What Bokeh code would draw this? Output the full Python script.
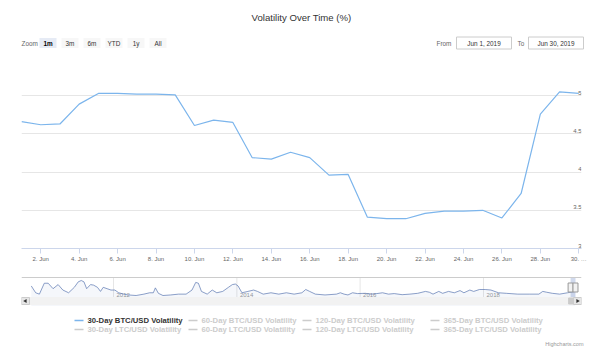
import numpy as np
import pandas as pd
from bokeh.plotting import figure
from bokeh.layouts import column, row
from bokeh.models import Range1d, FixedTicker
from bokeh.core.properties import value
from bokeh.embed import file_html
from bokeh.resources import INLINE

FONT = "Liberation Sans"
W = 602

# ---------------- data ----------------
title_text = "Volatility Over Time (%)"
dates = pd.date_range("2019-06-01", "2019-06-30", freq="D")
vol_30d_btc = [4.66, 4.62, 4.63, 4.89, 5.03, 5.03, 5.02, 5.02, 5.01, 4.61,
               4.68, 4.65, 4.19, 4.17, 4.26, 4.19, 3.96, 3.97, 3.41, 3.39,
               3.39, 3.46, 3.49, 3.49, 3.50, 3.40, 3.72, 4.76, 5.05, 5.03]
y_ticks = [3, 3.5, 4, 4.5, 5]
y_tick_labels = ["3", "3.5", "4", "4.5", "5"]
y_grid = [3, 3.5, 4, 4.5, 5, 5.5]
x_tick_dates = pd.to_datetime(["2019-06-%02d" % d for d in range(2, 31, 2)])
x_tick_labels = ["2. Jun", "4. Jun", "6. Jun", "8. Jun", "10. Jun", "12. Jun", "14. Jun",
                 "16. Jun", "18. Jun", "20. Jun", "22. Jun", "24. Jun", "26. Jun",
                 "28. Jun", "30. \u2026"]
zoom_label = "Zoom"
zoom_buttons = ["1m", "3m", "6m", "YTD", "1y", "All"]
zoom_selected = "1m"
from_label, from_value = "From", "Jun 1, 2019"
to_label, to_value = "To", "Jun 30, 2019"
legend_names = ["30-Day BTC/USD Volatility", "60-Day BTC/USD Volatility",
                "120-Day BTC/USD Volatility", "365-Day BTC/USD Volatility",
                "30-Day LTC/USD Volatility", "60-Day LTC/USD Volatility",
                "120-Day LTC/USD Volatility", "365-Day LTC/USD Volatility"]
legend_visible = [True, False, False, False, False, False, False, False]
credits_text = "Highcharts.com"

nav_dates = pd.to_datetime([
    "2010-09-01", "2010-09-27", "2010-10-19", "2010-11-17", "2010-12-10", "2011-01-08",
    "2011-02-07", "2011-03-07", "2011-04-10", "2011-05-14", "2011-06-06", "2011-06-24",
    "2011-07-10", "2011-07-26", "2011-08-18", "2011-09-05", "2011-09-28", "2011-10-16",
    "2011-11-01", "2011-11-24", "2011-12-17", "2012-01-09", "2012-02-01", "2012-03-02",
    "2012-03-30", "2012-05-14", "2012-06-29", "2012-08-02", "2012-08-24", "2012-09-05",
    "2012-09-23", "2012-10-20", "2012-12-05", "2013-01-20", "2013-03-06", "2013-04-10",
    "2013-05-02", "2013-05-18", "2013-06-05", "2013-07-09", "2013-08-08", "2013-09-04",
    "2013-10-09", "2013-11-12", "2013-12-05", "2013-12-23", "2014-01-08", "2014-01-31",
    "2014-03-07", "2014-04-10", "2014-05-03", "2014-06-06", "2014-07-22", "2014-09-06",
    "2014-10-21", "2014-12-06", "2015-01-21", "2015-02-13", "2015-03-08", "2015-04-11",
    "2015-06-07", "2015-08-14", "2015-09-06", "2015-09-28", "2015-10-21", "2015-11-17",
    "2015-12-17", "2016-02-01", "2016-03-06", "2016-04-09", "2016-05-13", "2016-06-17",
    "2016-07-21", "2016-09-06", "2016-10-22", "2016-12-07", "2017-01-22", "2017-02-14",
    "2017-03-08", "2017-04-11", "2017-05-04", "2017-06-08", "2017-07-12", "2017-08-15",
    "2017-09-07", "2017-10-12", "2017-11-04", "2017-12-08", "2018-01-11", "2018-02-14",
    "2018-03-31", "2018-05-16", "2018-07-23", "2018-09-29", "2018-11-25", "2018-12-18",
    "2019-01-10", "2019-02-13", "2019-03-28", "2019-05-14", "2019-06-28"])
nav_values = [8.9, 3.9, 2.9, 10.9, 10.9, 6.9, 9.9, 5.9, 3.9, 7.9, 11.9, 12.9,
              11.9, 6.9, 9.9, 9.5, 7.9, 4.9, 7.9, 6.9, 5.9, 5.9, 3.9, 2.9,
              2.3, 1.9, 2.9, 3.9, 3.9, 7.5, 3.5, 1.9, 2.3, 2.9, 2.9, 5.9,
              11.5, 10.9, 4.9, 2.9, 5.9, 3.9, 4.9, 7.9, 9.9, 10.3, 8.9, 3.9,
              4.9, 5.9, 4.9, 2.9, 3.9, 2.9, 3.9, 2.9, 3.9, 6.3, 4.9, 2.9,
              2.3, 2.9, 3.9, 2.9, 2.3, 3.9, 3.3, 3.5, 2.9, 3.3, 3.9, 2.9,
              3.3, 2.5, 2.9, 3.5, 4.9, 4.3, 2.9, 4.9, 3.5, 4.9, 3.9, 5.5,
              3.9, 5.9, 4.9, 6.3, 6.3, 5.9, 3.9, 3.5, 2.9, 2.9, 2.9, 4.9,
              4.3, 3.5, 2.9, 3.9, 4.9]
nav_year_ticks = pd.to_datetime(["2012-01-01", "2014-01-01", "2016-01-01", "2018-01-01"])
nav_year_labels = ["2012", "2014", "2016", "2018"]

# ---------------- helpers ----------------
def ms(t):
    return pd.Timestamp(t).value / 1e6

def px_fig(h, y_top, y_bot, x0=0, x1=602, bl=0, br=0):
    f = figure(width=W, height=h, x_range=Range1d(x0, x1),
               y_range=Range1d(y_bot, y_top), output_backend="svg",
               toolbar_location=None, x_axis_location=None, y_axis_location=None,
               min_border=0, min_border_left=bl, min_border_right=br,
               min_border_top=0, min_border_bottom=0)
    f.grid.visible = False
    f.outline_line_color = None
    return f

def txt(f, x, y, s, size, color, align="left", base="middle", bold=False, **kw):
    f.text(x=x, y=y, text=s, text_font=value(FONT), text_font_size=size,
           text_color=color, text_align=align, text_baseline=base,
           text_font_style="bold" if bold else "normal", **kw)

# ---------------- header ----------------
hd = px_fig(52, 0, 52)
txt(hd, [301], [17], [title_text], "9.6px", "#333333", align="center")
txt(hd, [21], [42.5], [zoom_label], "6.4px", "#666666")
bx = [47.5, 69.5, 91.5, 113.5, 135.5, 157.5]
for cx, lab in zip(bx, zoom_buttons):
    sel = lab == zoom_selected
    hd.rect(x=[cx], y=[42.5], width=17, height=10,
            fill_color="#e6ebf5" if sel else "#f7f7f7", line_color=None)
    txt(hd, [cx], [42.8], [lab], "6.4px", "#000000" if sel else "#333333",
        align="center", bold=sel)
txt(hd, [436], [42.5], [from_label], "6.4px", "#666666")
hd.rect(x=[483.5], y=[42.5], width=55, height=12, fill_color="white", line_color="#cccccc")
txt(hd, [483.5], [42.8], [from_value], "6.4px", "#333333", align="center")
txt(hd, [517], [42.5], [to_label], "6.4px", "#666666")
hd.rect(x=[555.5], y=[42.5], width=55, height=12, fill_color="white", line_color="#cccccc")
txt(hd, [555.5], [42.8], [to_value], "6.4px", "#333333", align="center")

# ---------------- main chart ----------------
x_end = dates[-1] + pd.Timedelta(hours=3.4)
p = figure(width=W, height=220, x_axis_type="datetime",
           x_range=Range1d(dates[0], x_end), y_range=Range1d(3, 5.5),
           output_backend="svg", toolbar_location=None, y_axis_location=None,
           min_border_left=21, min_border_right=21, min_border_top=5, min_border_bottom=24)
p.outline_line_color = None
p.xgrid.visible = False
p.ygrid.ticker = FixedTicker(ticks=y_grid)
p.ygrid.grid_line_color = "#e6e6e6"
ax = p.xaxis[0]
tick_ms = [int(ms(t)) for t in x_tick_dates]
ax.ticker = FixedTicker(ticks=tick_ms)
ax.major_label_overrides = {t: l for t, l in zip(tick_ms, x_tick_labels)}
ax.axis_line_color = "#ccd6eb"
ax.major_tick_line_color = "#ccd6eb"
ax.major_tick_out = 5
ax.major_tick_in = 0
ax.minor_tick_line_color = None
ax.major_label_text_font = FONT
ax.major_label_text_font_size = "6px"
ax.major_label_text_color = "#666666"
ax.major_label_standoff = 2
p.line(dates, vol_30d_btc, line_color="#7cb5ec", line_width=1.2)
txt(p, [x_end] * len(y_ticks), y_ticks, y_tick_labels, "6px", "#666666",
    align="right", base="bottom", y_offset=-1)

# ---------------- navigator ----------------
t12, t18 = ms("2012-01-01"), ms("2018-01-01")
mpp = (t18 - t12) / (483 - 113)
D0, D1 = t12 - (113 - 21) * mpp, t12 + (581 - 113) * mpp
vlo, vhi = min(nav_values), max(nav_values)
upp = (vhi - vlo) / (295 - 280)
nv = px_fig(34, 272, 306, x0=21, x1=581, bl=21, br=21)
nv.extra_x_ranges = {"t": Range1d(D0, D1)}
nv.extra_y_ranges = {"v": Range1d(vlo - (306 - 295) * upp, vhi + (280 - 272) * upp)}
yr_ms = [ms(t) for t in nav_year_ticks]
nv.segment(x0=yr_ms, x1=yr_ms, y0=[277] * 4, y1=[297] * 4, x_range_name="t",
           line_color="#e6e6e6", line_width=1)
txt(nv, yr_ms, [294.5] * 4, nav_year_labels, "6px", "#999999", x_offset=3,
    x_range_name="t")
nav_ms = [ms(t) for t in nav_dates]
nv.varea(x=nav_ms, y1=[vlo - 20] * len(nav_ms), y2=nav_values, fill_color="#335cad",
         fill_alpha=0.05, x_range_name="t", y_range_name="v")
nv.line(nav_ms, nav_values, line_color="#5a76b0", line_width=1, line_alpha=0.7,
        x_range_name="t", y_range_name="v")
sel0, sel1 = ms(dates[0]), ms(dates[-1])
nv.quad(left=[sel0], right=[sel1], top=[277], bottom=[297], x_range_name="t",
        fill_color="#6685c2", fill_alpha=0.3, line_color=None)
nv.segment(x0=[21], x1=[581], y0=[277], y1=[277], line_color="#cccccc", line_width=1)
nv.rect(x=[sel0, sel1], y=[287, 287], width=5, height=9, width_units="screen",
        height_units="screen", x_range_name="t", fill_color="#f2f2f2", line_color="#999999")
# scrollbar
nv.quad(left=[21], right=[581], top=[297], bottom=[304], fill_color="#f2f2f2", line_color="#f2f2f2")
nv.quad(left=[sel0 - 2 * mpp], right=[sel1 + 2 * mpp], top=[297.5], bottom=[303.5],
        x_range_name="t", fill_color="#cccccc", line_color="#cccccc")
nv.quad(left=[21, 573], right=[29, 581], top=[297, 297], bottom=[304, 304],
        fill_color="#e6e6e6", line_color="#cccccc")
nv.scatter(x=[25, 577], y=[300.5, 300.5], marker="triangle", size=4,
           angle=[np.pi / 2, -np.pi / 2], fill_color="#333333", line_color=None)

# ---------------- legend ----------------
lg = px_fig(51, 306, 357)
col_x = [74, 188, 302, 430]
row_y = [320, 329]
for i, (name, vis) in enumerate(zip(legend_names, legend_visible)):
    lx, ly = col_x[i % 4], row_y[i // 4]
    lg.segment(x0=[lx], x1=[lx + 9], y0=[ly], y1=[ly],
               line_color="#7cb5ec" if vis else "#cccccc", line_width=1.5)
    txt(lg, [lx + 13], [ly], [name], "7.7px", "#333333" if vis else "#cccccc", bold=True)
txt(lg, [583], [343], [credits_text], "5.5px", "#999999", align="right")

layout = column(row(hd), p, nv, row(lg))
open("out.html", "w").write(file_html(layout, INLINE))
